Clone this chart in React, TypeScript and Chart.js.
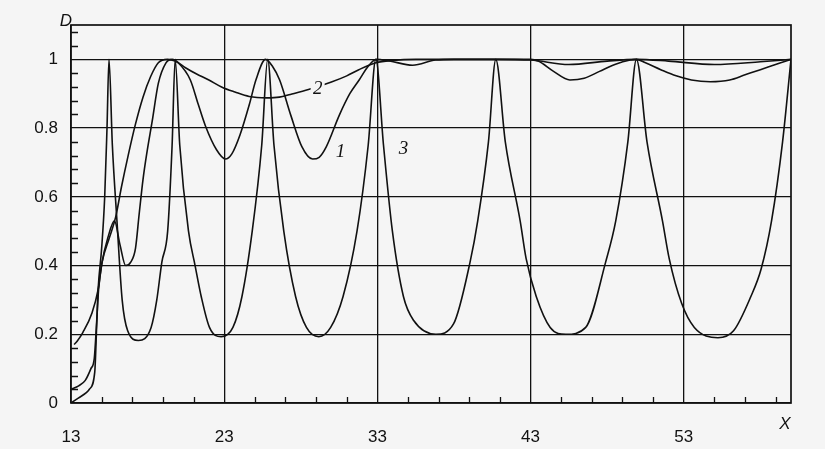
import React, { useEffect, useRef } from "react";
import { Chart, registerables } from "chart.js";

Chart.register(...registerables);

// Curve 1: early bump to 0.53, dips to 0.40, then two dips to ~0.71, then near 1
const curve1X = [13.0, 13.5, 13.92, 14.3, 14.52, 14.68, 14.8, 15.03, 15.4, 15.84, 16.2, 16.57, 16.9, 17.21, 17.45, 17.7, 17.96, 18.3, 18.7, 19.2, 19.6, 20.0, 20.79, 21.3, 21.77, 22.5, 23.08, 23.5, 24.03, 24.65, 25.07, 25.7, 26.15, 26.62, 27.35, 28.07, 28.77, 29.2, 29.67, 30.51, 31.2, 31.81, 32.4, 32.93, 33.8, 35.3, 36.8, 38.0, 40.7, 43.0, 45.5, 48.0, 49.9, 52.0, 55.0, 58.0, 60.0];
const curve1Y = [0.04, 0.05, 0.065, 0.1, 0.13, 0.24, 0.33, 0.41, 0.48, 0.53, 0.46, 0.40, 0.41, 0.45, 0.55, 0.65, 0.73, 0.82, 0.93, 0.99, 1.0, 0.99, 0.94, 0.87, 0.807, 0.737, 0.71, 0.725, 0.78, 0.87, 0.94, 1.0, 0.98, 0.94, 0.837, 0.746, 0.71, 0.715, 0.746, 0.837, 0.9, 0.94, 0.98, 1.0, 0.995, 0.983, 0.998, 1.0, 1.0, 0.998, 0.985, 0.995, 1.0, 0.995, 0.985, 0.993, 1.0];

// Curve 2: smooth rise from 0.17, shallow dips
const curve2X = [13.2, 13.4, 13.77, 14.37, 14.77, 15.03, 15.5, 15.91, 16.3, 16.73, 17.2, 17.7, 18.2, 18.7, 19.3, 19.8, 20.5, 21.17, 22.0, 22.86, 23.7, 24.63, 25.77, 26.6, 27.32, 28.5, 30.0, 31.0, 31.79, 32.9, 34.0, 35.5, 38.0, 40.7, 43.0, 43.5, 44.5, 45.57, 46.5, 47.5, 48.5, 49.5, 49.9, 50.5, 51.5, 52.5, 53.5, 54.73, 56.0, 57.0, 58.0, 59.33, 60.0];
const curve2Y = [0.17, 0.18, 0.205, 0.262, 0.33, 0.41, 0.48, 0.54, 0.63, 0.72, 0.81, 0.89, 0.95, 0.99, 1.0, 0.995, 0.975, 0.958, 0.94, 0.919, 0.905, 0.892, 0.888, 0.89, 0.898, 0.912, 0.934, 0.952, 0.97, 0.99, 0.997, 1.0, 1.0, 1.0, 1.0, 0.995, 0.965, 0.94, 0.945, 0.965, 0.985, 0.998, 1.0, 0.99, 0.97, 0.952, 0.94, 0.935, 0.94, 0.955, 0.97, 0.99, 1.0];

// Curve 3: sharp oscillation between ~0.2 and 1
const curve3X = [13.0, 13.5, 14.0, 14.2, 14.55, 14.68, 14.77, 15.0, 15.2, 15.35, 15.48, 15.7, 16.0, 16.34, 16.7, 17.4, 18.23, 18.6, 18.93, 19.31, 19.6, 19.8, 20.1, 20.67, 21.1, 21.5, 22.04, 22.8, 23.57, 24.16, 24.83, 25.45, 25.84, 26.25, 26.89, 27.66, 28.37, 29.18, 29.95, 30.76, 31.67, 32.4, 32.9, 33.4, 33.98, 34.7, 35.37, 36.82, 37.97, 39.05, 39.55, 40.25, 40.73, 41.35, 42.32, 42.71, 43.37, 44.28, 45.31, 46.6, 47.9, 48.56, 49.35, 49.91, 50.6, 51.61, 52.05, 52.86, 53.69, 55.23, 56.25, 57.38, 58.05, 58.73, 59.45, 60.0];
const curve3Y = [0.0, 0.015, 0.03, 0.04, 0.09, 0.23, 0.33, 0.45, 0.6, 0.8, 1.0, 0.75, 0.53, 0.30, 0.21, 0.182, 0.22, 0.3, 0.41, 0.5, 0.75, 1.0, 0.75, 0.5, 0.4, 0.31, 0.22, 0.193, 0.22, 0.31, 0.5, 0.75, 1.0, 0.75, 0.5, 0.31, 0.22, 0.193, 0.22, 0.31, 0.5, 0.75, 1.0, 0.75, 0.5, 0.31, 0.24, 0.2, 0.23, 0.41, 0.53, 0.76, 1.0, 0.76, 0.53, 0.42, 0.31, 0.22, 0.2, 0.22, 0.41, 0.53, 0.76, 1.0, 0.76, 0.53, 0.42, 0.29, 0.22, 0.19, 0.21, 0.31, 0.39, 0.53, 0.76, 1.0];

const xTickValues = [13, 23, 33, 43, 53];
const yTickValues = [0, 0.2, 0.4, 0.6, 0.8, 1];
const xMinorTicks = [15, 17, 19, 21, 25, 27, 29, 31, 35, 37, 39, 41, 45, 47, 49, 51, 55, 57, 59];
const yMinorTicks = [0.04, 0.08, 0.12, 0.16, 0.24, 0.28, 0.32, 0.36, 0.44, 0.48, 0.52, 0.56, 0.64, 0.68, 0.72, 0.76, 0.84, 0.88, 0.92, 0.96, 1.04, 1.08];
const curveLabels = ["1", "2", "3"];
const curveLabelX = [30.6, 29.1, 34.7];
const curveLabelY = [0.73, 0.913, 0.74];

const INK = "#111111";
const BG = "#f5f5f5";

const mkData = (xs: number[], ys: number[]) => xs.map((x, i) => ({ x, y: ys[i] }));

export default function App() {
  const ref = useRef<HTMLCanvasElement | null>(null);

  useEffect(() => {
    const canvas = ref.current;
    if (!canvas) return;

    const decor = {
      id: "decor",
      beforeDraw(chart: any) {
        const c = chart.ctx;
        c.save();
        c.fillStyle = BG;
        c.fillRect(0, 0, chart.width, chart.height);
        c.restore();
      },
      afterDraw(chart: any) {
        const c = chart.ctx;
        const a = chart.chartArea;
        const xs = chart.scales.x;
        const ys = chart.scales.y;
        c.save();
        c.strokeStyle = INK;
        c.lineWidth = 1.7;
        c.strokeRect(a.left, a.top, a.right - a.left, a.bottom - a.top);
        c.lineWidth = 1.3;
        c.beginPath();
        xMinorTicks.forEach((v) => {
          const p = Math.round(xs.getPixelForValue(v)) + 0.5;
          c.moveTo(p, a.bottom);
          c.lineTo(p, a.bottom - 6);
        });
        yMinorTicks.forEach((v) => {
          const p = Math.round(ys.getPixelForValue(v)) + 0.5;
          c.moveTo(a.left, p);
          c.lineTo(a.left + 7, p);
        });
        c.stroke();

        c.fillStyle = INK;
        c.textAlign = "center";
        c.textBaseline = "middle";
        c.font = "italic 19px 'Liberation Serif'";
        curveLabels.forEach((t, i) => {
          const px = xs.getPixelForValue(curveLabelX[i]);
          const py = ys.getPixelForValue(curveLabelY[i]);
          c.fillStyle = BG;
          c.fillRect(px - 7, py - 9, 14, 18);
          c.fillStyle = INK;
          c.fillText(t, px, py);
        });
        c.font = "italic 17px 'Liberation Sans'";
        c.fillText("D", a.left - 5, a.top - 4);
        c.fillText("X", a.right - 6, a.bottom + 21);
        c.restore();
      },
    };

    const lineStyle = {
      borderColor: INK,
      borderWidth: 1.6,
      pointRadius: 0,
      fill: false,
      cubicInterpolationMode: "monotone" as const,
    };

    const chart = new Chart(canvas, {
      type: "line",
      data: {
        datasets: [
          { label: "1", data: mkData(curve1X, curve1Y), ...lineStyle },
          { label: "2", data: mkData(curve2X, curve2Y), ...lineStyle },
          { label: "3", data: mkData(curve3X, curve3Y), ...lineStyle },
        ],
      },
      options: {
        responsive: false,
        animation: false,
        devicePixelRatio: 1,
        layout: { padding: { top: 25, right: 34, left: 0, bottom: 0 } },
        plugins: { legend: { display: false }, tooltip: { enabled: false } },
        scales: {
          x: {
            type: "linear",
            min: 13,
            max: 60,
            afterBuildTicks: (s: any) => {
              s.ticks = xTickValues.map((v) => ({ value: v }));
            },
            afterFit: (s: any) => {
              s.height = 46;
            },
            grid: { color: INK, lineWidth: 1.3, drawTicks: false },
            border: { display: false },
            ticks: {
              padding: 24,
              color: INK,
              font: { family: "'Liberation Sans'", size: 17 },
              maxRotation: 0,
              autoSkip: false,
              callback: (v: any) => String(v),
            },
          },
          y: {
            type: "linear",
            min: 0,
            max: 1.1,
            afterBuildTicks: (s: any) => {
              s.ticks = yTickValues.map((v) => ({ value: v }));
            },
            afterFit: (s: any) => {
              s.width = 71;
            },
            grid: { color: INK, lineWidth: 1.3, drawTicks: false },
            border: { display: false },
            ticks: {
              padding: 13,
              color: INK,
              font: { family: "'Liberation Sans'", size: 17 },
              autoSkip: false,
              callback: (v: any) => {
                const n = Number(v);
                if (n === 0) return "0";
                if (Math.abs(n - 1) < 1e-9) return "1";
                return n.toFixed(1);
              },
            },
          },
        },
      },
      plugins: [decor],
    });

    return () => chart.destroy();
  }, []);

  return (
    <div style={{ position: "fixed", left: 0, top: 0, width: 825, height: 449 }}>
      <canvas ref={ref} width={825} height={449} style={{ display: "block" }} />
    </div>
  );
}
